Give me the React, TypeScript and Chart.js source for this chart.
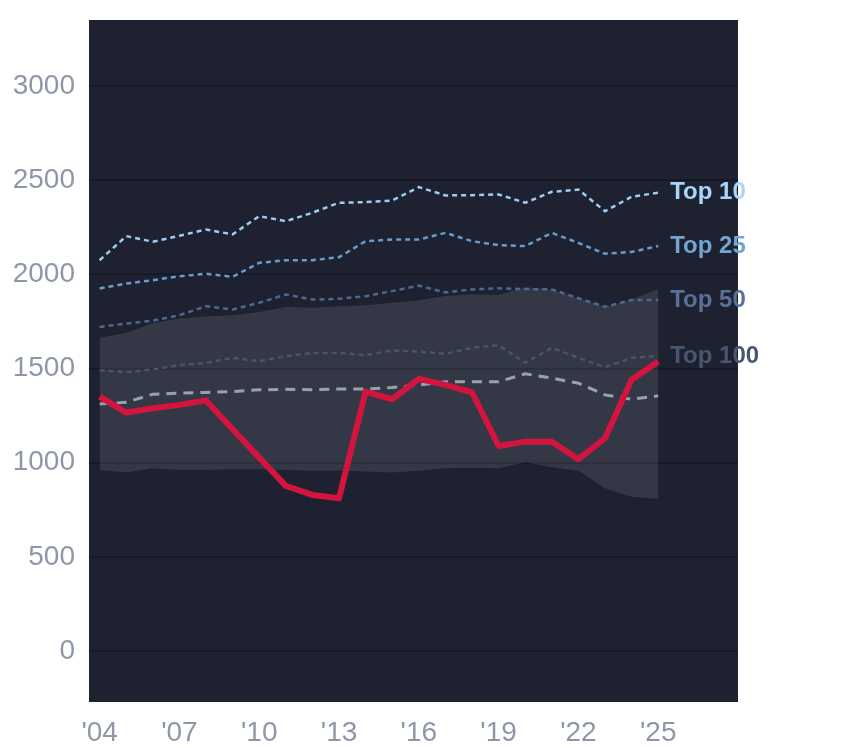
import { Chart, registerables } from "chart.js"
import { useEffect, useRef } from "react"

Chart.register(...registerables)

const years = [2004, 2005, 2006, 2007, 2008, 2009, 2010, 2011, 2012, 2013, 2014, 2015, 2016, 2017, 2018, 2019, 2020, 2021, 2022, 2023, 2024, 2025]
const xTicks = [2004, 2007, 2010, 2013, 2016, 2019, 2022, 2025]
const yTicks = [0, 500, 1000, 1500, 2000, 2500, 3000]

const top10 = [2075, 2203, 2173, 2205, 2238, 2212, 2309, 2282, 2327, 2380, 2383, 2392, 2463, 2419, 2420, 2424, 2380, 2438, 2450, 2335, 2412, 2433]
const top25 = [1925, 1951, 1969, 1990, 2003, 1987, 2061, 2075, 2075, 2091, 2176, 2185, 2185, 2220, 2176, 2155, 2150, 2220, 2167, 2109, 2119, 2150]
const top50 = [1721, 1739, 1755, 1783, 1831, 1813, 1849, 1893, 1866, 1870, 1884, 1911, 1940, 1904, 1920, 1926, 1922, 1920, 1873, 1828, 1864, 1864]
const top100 = [1491, 1481, 1495, 1518, 1530, 1557, 1539, 1566, 1583, 1583, 1571, 1596, 1590, 1578, 1610, 1624, 1531, 1610, 1557, 1507, 1557, 1566]
const median = [1312, 1321, 1364, 1369, 1373, 1378, 1387, 1390, 1387, 1392, 1392, 1399, 1413, 1430, 1430, 1430, 1472, 1449, 1422, 1360, 1337, 1355]
const player = [1351, 1266, 1289, 1307, 1330, 1178, 1027, 877, 829, 812, 1378, 1337, 1445, 1413, 1374, 1089, 1112, 1112, 1019, 1130, 1440, 1537]
const bandHigh = [1663, 1689, 1742, 1765, 1778, 1783, 1800, 1827, 1822, 1831, 1836, 1849, 1862, 1885, 1894, 1890, 1931, 1920, 1873, 1828, 1867, 1922]
const bandLow = [962, 948, 971, 962, 962, 965, 965, 962, 958, 957, 953, 948, 958, 971, 974, 971, 1003, 976, 957, 865, 820, 808]

const tierLabels = ["Top 10", "Top 25", "Top 50", "Top 100"]
const tierColors = ["#9ecdf3", "#6a9ccb", "#4d6890", "#455470"]
const tierLabelColors = ["#a8d5fb", "#72a6d2", "#58719a", "#48566f"]

const pts = (vals: number[]) => vals.map((y, i) => ({ x: years[i], y }))

const font = "'Liberation Sans', Arial, sans-serif"

const plotBg = {
	id: "plotBg",
	beforeDraw(chart: any) {
		const { ctx, chartArea: a } = chart
		ctx.save()
		ctx.fillStyle = "#1d2130"
		ctx.fillRect(a.left, a.top, a.right - a.left, a.bottom - a.top)
		ctx.restore()
	}
}

const endLabels = {
	id: "endLabels",
	afterDatasetsDraw(chart: any) {
		const ctx = chart.ctx
		ctx.save()
		ctx.font = `bold 24px ${font}`
		ctx.textBaseline = "middle"
		ctx.textAlign = "left"
		chart.data.datasets.forEach((ds: any, i: number) => {
			if (ds.tier === undefined) return
			const meta = chart.getDatasetMeta(i)
			const last = meta.data[meta.data.length - 1]
			ctx.fillStyle = tierLabelColors[ds.tier]
			ctx.fillText(ds.label, last.x + 12, last.y)
		})
		ctx.restore()
	}
}

export default function App() {
	const canvasRef = useRef<HTMLCanvasElement>(null)

	useEffect(() => {
		document.body.style.margin = "0"
		const ctx = canvasRef.current?.getContext("2d") as CanvasRenderingContext2D

		const tiers = [top10, top25, top50, top100].map((vals, i) => ({
			label: tierLabels[i],
			tier: i,
			data: pts(vals),
			borderColor: tierColors[i],
			borderWidth: 2.5,
			borderDash: [5, 4],
			pointRadius: 0,
			fill: false,
			order: 5
		}))

		const chart = new Chart(ctx, {
			type: "line",
			data: {
				datasets: [
					{
						label: "low",
						data: pts(bandLow),
						borderWidth: 0,
						pointRadius: 0,
						fill: false,
						order: 10
					},
					{
						label: "high",
						data: pts(bandHigh),
						borderWidth: 0,
						pointRadius: 0,
						backgroundColor: "rgba(255,255,255,0.1)",
						fill: "-1",
						order: 10
					},
					...tiers,
					{
						label: "median",
						data: pts(median),
						borderColor: "#9aa1ae",
						borderWidth: 3,
						borderDash: [10, 7],
						pointRadius: 0,
						fill: false,
						order: 4
					},
					{
						label: "player",
						data: pts(player),
						borderColor: "#d2143f",
						borderWidth: 6,
						borderJoinStyle: "round",
						pointRadius: 0,
						fill: false,
						order: 0
					}
				] as any
			},
			options: {
				responsive: false,
				animation: false,
				devicePixelRatio: 1,
				layout: { padding: { top: 20, right: 106, left: 0, bottom: 0 } },
				plugins: {
					legend: { display: false },
					tooltip: { enabled: false }
				},
				elements: { line: { tension: 0 } },
				scales: {
					x: {
						type: "linear",
						min: 2003.6,
						max: 2028,
						afterBuildTicks: (s: any) => {
							s.ticks = xTicks.map((v) => ({ value: v }))
						},
						afterFit: (s: any) => {
							s.height = 46
							s.paddingLeft = 0
							s.paddingRight = 0
						},
						grid: { display: false },
						border: { display: false },
						ticks: {
							color: "#8e97a8",
							font: { family: font, size: 28 },
							padding: 6,
							maxRotation: 0,
							autoSkip: false,
							callback: (v: any) => "'" + String(v).slice(2)
						}
					},
					y: {
						min: -270,
						max: 3350,
						afterBuildTicks: (s: any) => {
							s.ticks = yTicks.map((v) => ({ value: v }))
						},
						afterFit: (s: any) => {
							s.width = 89
							s.paddingTop = 0
							s.paddingBottom = 0
						},
						grid: { color: "#151923", lineWidth: 2, drawTicks: false },
						border: { display: false },
						ticks: {
							color: "#8e97a8",
							font: { family: font, size: 28 },
							padding: 14,
							callback: (v: any) => String(v)
						}
					}
				}
			},
			plugins: [plotBg, endLabels]
		})

		return () => {
			chart.destroy()
		}
	}, [])

	return <canvas ref={canvasRef} width={844} height={748} />
}
